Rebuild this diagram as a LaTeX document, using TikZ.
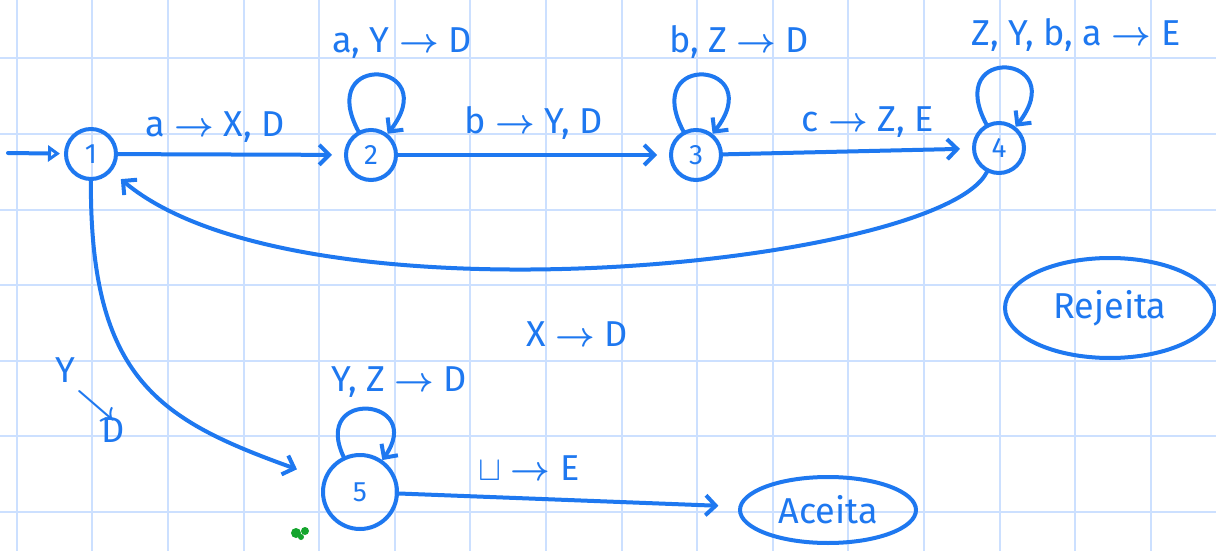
\documentclass[tikz,border=0pt]{standalone}
\usepackage{amsmath,amssymb}
\usepackage{fontspec}
\setmainfont{Fira Sans}
\usepackage{xcolor}
\usetikzlibrary{positioning,arrows.meta,shapes.geometric}
\definecolor{ink}{RGB}{30,120,240}
\definecolor{gridblue}{RGB}{204,224,255}
\definecolor{leaf}{RGB}{20,165,45}
\newcommand{\goes}{$\boldsymbol{\to}$}

\begin{document}
\begin{tikzpicture}[x=0.5pt, y=-0.5pt,
  state/.style={circle, draw=ink, line width=2pt, minimum size=25pt, inner sep=0pt,
    text=ink, font=\fontsize{14}{14}\selectfont},
  halt/.style={ellipse, draw=ink, line width=2pt, inner sep=0pt,
    text=ink, font=\fontsize{18}{20}\selectfont},
  trans/.style={draw=ink, line width=2pt, line cap=round,
    -{Straight Barb[length=5pt, width=10pt, line width=2pt]}, shorten >=6pt},
  selfloop/.style={trans, shorten >=0pt, looseness=8},
  lbl/.style={text=ink, font=\fontsize{18}{20}\selectfont, inner sep=1pt}]
\useasboundingbox (0,0) rectangle (1216,551);
\fill[white] (0,0) rectangle (1216,551);
% squared paper
\foreach \gx in {0,...,15}
  \draw[gridblue, line width=1pt] (16.7+75.6*\gx,0) -- (16.7+75.6*\gx,551);
\foreach \gy in {0,...,6}
  \draw[gridblue, line width=1pt] (0,58.3+75.6*\gy) -- (1216,58.3+75.6*\gy);
% states
\node[state] (s1) at (91,154) {1};
\node[state] (s2) at (371,155) {2};
\node[state] (s3) at (696,155) {3};
\node[state] (s4) at (999,148) {4};
\node[state, minimum size=37pt] (s5) at (360,492) {5};
\node[halt, minimum width=88pt, minimum height=33pt] (acc) at (828,510) {Aceita};
\node[halt, minimum width=105pt, minimum height=50pt] (rej) at (1110,308) {Rejeita};
% start arrow
\coordinate (init) at (8,153);
\draw[trans, shorten >=2pt, -{Triangle[open, length=6pt, width=8pt, line width=2pt]}] (init) -- (s1);
% main chain
\draw[trans] (s1) -- node[lbl, above=4pt, xshift=-8pt] {a \goes{} X, D} (s2);
\draw[trans] (s2) -- node[lbl, above=6pt] {b \goes{} Y, D} (s3);
\draw[trans] (s3) -- node[lbl, above=5pt, xshift=10pt] {c \goes{} Z, E} (s4);
% self loops
\path (s2) edge[selfloop, out=118, in=52] node[lbl, above=6pt, xshift=12pt] {a, Y \goes{} D} (s2);
\path (s3) edge[selfloop, out=118, in=52] node[lbl, above=6pt, xshift=18pt] {b, Z \goes{} D} (s3);
\path (s4) edge[selfloop, out=118, in=52] node[lbl, above=6pt, xshift=35pt] {Z, Y, b, a \goes{} E} (s4);
\path (s5) edge[selfloop, out=115, in=55, looseness=5] node[lbl, above=4pt, xshift=16pt] {Y, Z \goes{} D} (s5);
% back to the start
\draw[trans] (s4) .. controls (940,265) and (300,330) .. (s1);
\node[lbl] (lback) at (577,334) {X \goes{} D};
% down to 5
\draw[trans, shorten >=14pt] (s1) .. controls (90,380) and (160,420) .. (s5);
\node[lbl, align=left] (ldown) at (90,400) {Y\\[-4pt]\hspace*{0.6em}$\boldsymbol{\searrow}$\\[-6pt]\hspace*{1.3em}D};
% accept
\draw[trans, shorten >=10pt] (s5) -- node[lbl, above=8pt, xshift=-20pt] {$\sqcup$ \goes{} E} (acc);
% little green mark
\fill[leaf] (296,533) circle (2.5pt) (305,531) circle (2pt) (301,537) circle (1.5pt);
\end{tikzpicture}
\end{document}
